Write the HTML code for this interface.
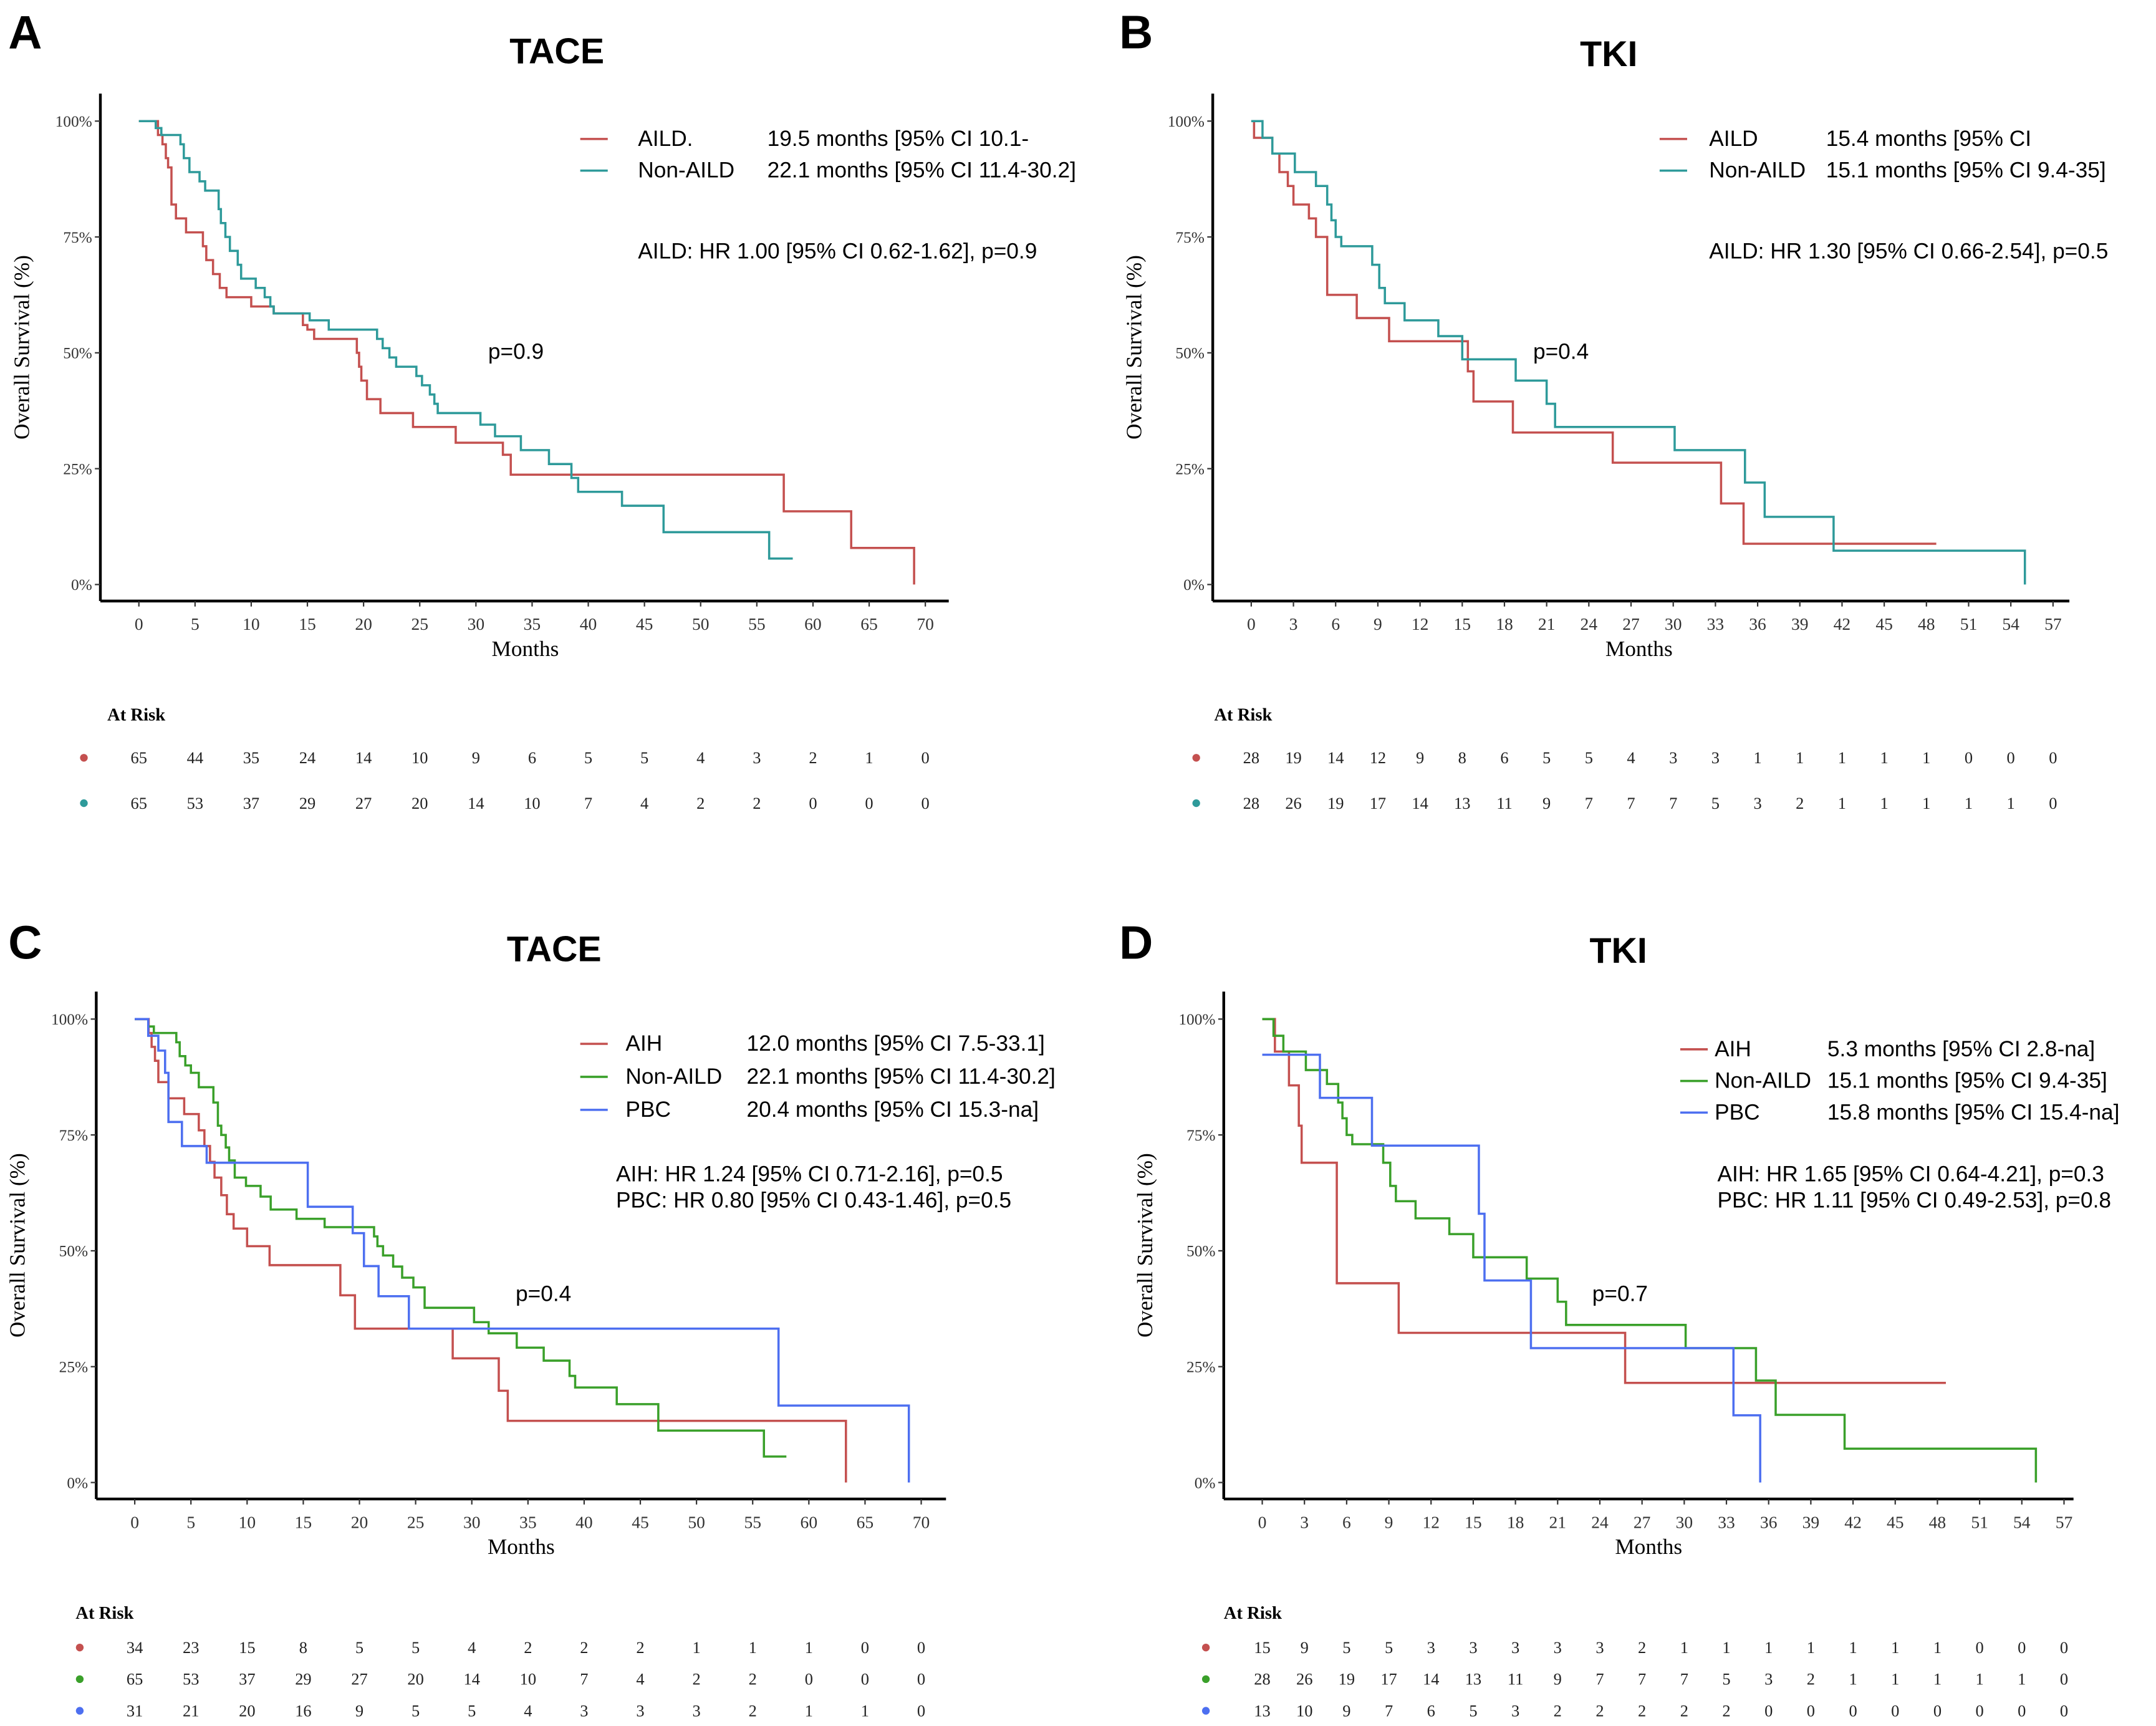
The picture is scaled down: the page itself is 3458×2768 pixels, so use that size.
<!DOCTYPE html>
<html><head><meta charset="utf-8"><style>
html,body{margin:0;padding:0;background:#fff}
svg{display:block}
.ser{font-family:"Liberation Serif",serif}
.san{font-family:"Liberation Sans",sans-serif}
</style></head><body>
<svg id="fig" width="3458" height="2768" viewBox="0 0 1568 1255" xmlns="http://www.w3.org/2000/svg">
<rect width="1568" height="1255" fill="#fff"/>
</svg>
<script>
// ---- Panel A data (TACE, AILD vs Non-AILD) ----
const aAildT=[0,1.7,2.1,2.4,2.6,2.9,3.3,4.2,5.7,6,6.6,7.2,7.8,10,12,14.6,15,15.6,19.4,19.6,19.8,20.3,21.5,24.4,28.2,32.4,33.1,57.4,63.4,69,69];
const aAildS=[100,97,95,92,90,82,79,76,73,70,67,64,62,60,58.5,56,55,53,50,47,44,40,37,34,30.6,28,23.7,15.8,7.9,0,0];
const aNonT=[0,1.5,2,3.7,4,4.5,5.4,5.9,7.1,7.3,7.7,8.1,8.8,9.1,10.4,11.2,11.7,12,15.2,16.9,21.2,21.7,22.3,22.9,24.7,25.2,25.9,26.3,26.6,30.4,31.7,34,36.5,38.5,39.1,43,46.7,56.1,58.2];
const aNonS=[100,98.5,97,95,92,89,87,85,81,78,75,72,69,66,64,62,60,58.5,57,55,53,51,49,47,45,43,41,39,37,34.5,32,29,26,23,20,17,11.3,5.6,5.6];
const aRiskAild=[65,44,35,24,14,10,9,6,5,5,4,3,2,1,0];
const aRiskNon=[65,53,37,29,27,20,14,10,7,4,2,2,0,0,0];
// ---- Panel B data (TKI, AILD vs Non-AILD) ----
const bAildT=[0,0.2,1.5,2,2.6,3,4.1,4.6,5.4,7.5,9.8,15.4,15.8,18.6,25.7,33.4,35,48.7];
const bAildS=[100,96.4,93,89,86,82,79,75,62.5,57.5,52.5,46,39.5,32.8,26.3,17.5,8.8,8.8];
const bNonT=[0,0.8,1.5,3.1,4.6,5.4,5.7,6,6.4,8.6,9.1,9.5,10.9,13.3,15,18.8,21,21.6,30.1,35.1,36.5,41.4,55,55];
const bNonS=[100,96.4,93,89,86,82,78.6,75,73,69,64,60.7,57,53.6,48.6,44,39,34,29,22,14.6,7.3,0,0];
const bRiskAild=[28,19,14,12,9,8,6,5,5,4,3,3,1,1,1,1,1,0,0,0];
const bRiskNon=[28,26,19,17,14,13,11,9,7,7,7,5,3,2,1,1,1,1,1,0];
// ---- Panel C data (TACE, AIH / Non-AILD / PBC) ----
const cAihT=[0,1.24,1.5,1.8,2.1,3.0,4.4,5.7,6.2,6.7,7.1,7.7,8.2,8.8,10,12,18.3,19.6,19.8,28.3,32.4,33.2,63.3,63.3];
const cAihS=[100,97,94,91,86.4,82.9,79.5,76,72.6,69.2,65.8,62,57.9,54.8,51,46.9,40.4,33.2,33.2,26.8,19.8,13.3,0,0];
const cNonT=[0,1.2,1.7,3.7,4.0,4.5,5.0,5.7,7.0,7.4,7.7,8.1,8.4,8.9,9.9,11.2,12.1,14.4,16.9,21.3,21.6,22.1,23,23.8,24.8,25.8,26.5,30.2,31.5,34,36.4,38.7,39.2,42.9,46.6,56,58];
const cNonS=[100,98.4,97,95,92,90,88.4,85.3,82,77,75,72.3,69.5,65.8,64,61.7,58.9,56.9,55.1,53.1,51,49,46.6,44.2,42.1,37.7,37.7,34.6,32.2,29.1,26.3,23,20.5,16.9,11.2,5.6,5.6];
const cPbcT=[0,1.2,2.1,2.7,3.0,4.2,6.4,15.4,19.4,20.4,21.7,24.4,57.3,68.9,68.9];
const cPbcS=[100,96.4,93.2,88.4,77.8,72.6,69,59.5,53.8,46.7,40.2,33.2,16.6,0,0];
const cRiskAih=[34,23,15,8,5,5,4,2,2,2,1,1,1,0,0];
const cRiskNon=[65,53,37,29,27,20,14,10,7,4,2,2,0,0,0];
const cRiskPbc=[31,21,20,16,9,5,5,4,3,3,3,2,1,1,0];
// ---- Panel D data (TKI, AIH / Non-AILD / PBC) ----
const dAihT=[0,0.9,1.9,2.6,2.8,5.3,9.7,25.8,48.6];
const dAihS=[100,93,85.7,77,69,43,32.3,21.5,21.5];
const dNonT=bNonT.slice();
const dNonS=bNonS.slice();
const dPbcT=[0,4.1,7.8,15.4,15.8,19.1,33.5,35.4,35.4];
const dPbcS=[92.3,83,72.7,58,43.6,29,14.5,0,0];
const dRiskAih=[15,9,5,5,3,3,3,3,3,2,1,1,1,1,1,1,1,0,0,0];
const dRiskNon=[28,26,19,17,14,13,11,9,7,7,7,5,3,2,1,1,1,1,1,0];
const dRiskPbc=[13,10,9,7,6,5,3,2,2,2,2,2,0,0,0,0,0,0,0,0];
const xTicks5=[0,5,10,15,20,25,30,35,40,45,50,55,60,65,70];
const xTicks3=[0,3,6,9,12,15,18,21,24,27,30,33,36,39,42,45,48,51,54,57];
const yTicks=[0,25,50,75,100];

const RED='#c4504f',TEAL='#2e9a9a',GREEN='#3aa02a',BLUE='#4d6ff0';
const NS='http://www.w3.org/2000/svg';
const svg=document.getElementById('fig');
function mk(tag,attrs,parent,txt){const e=document.createElementNS(NS,tag);for(const k in attrs)e.setAttribute(k,attrs[k]);if(txt!==undefined)e.textContent=txt;(parent||svg).appendChild(e);return e;}

function panel(p){
  const g=mk('g',{},svg);
  
  
  const xs=t=>p.x0+t*p.pxPerMonth;
  const ys=s=>p.y0-s*(p.y0-p.y100)/100;
  let e=mk('text',{x:p.letterX,y:p.letterY,'font-size':34,'font-weight':'bold',class:'san'},g,p.letter);
  
  
  e=mk('text',{x:p.titleX,y:p.titleY,'font-size':26,'font-weight':'bold',class:'san','text-anchor':'middle'},g,p.title);
  
  
  e=mk('line',{x1:p.axX,y1:p.axTop,x2:p.axX,y2:p.axBot,stroke:'#000','stroke-width':2},g);
  
  
  e=mk('line',{x1:p.axX,y1:p.axBot,x2:p.axRight,y2:p.axBot,stroke:'#000','stroke-width':2},g);
  
  
  yTicks.forEach(v=>{
    mk('line',{x1:p.axX-4,y1:ys(v),x2:p.axX,y2:ys(v),stroke:'#333','stroke-width':1},g);
    e=mk('text',{x:p.axX-6,y:ys(v)+4,'font-size':11.5,class:'ser','text-anchor':'end',fill:'#333'},g,v+'%');
    
    
  });
  p.xTicks.forEach(v=>{
    mk('line',{x1:xs(v),y1:p.axBot,x2:xs(v),y2:p.axBot+4,stroke:'#333','stroke-width':1},g);
    e=mk('text',{x:xs(v),y:p.axBot+21,'font-size':12.5,class:'ser','text-anchor':'middle',fill:'#333'},g,v);
    
    
  });
  e=mk('text',{x:p.monthsX,y:p.axBot+40,'font-size':16,class:'ser','text-anchor':'middle'},g,'Months');
  
  
  const cy=(p.axTop+p.axBot)/2;
  e=mk('text',{x:p.axX-52,y:cy,'font-size':16,class:'ser','text-anchor':'middle',transform:'rotate(-90 '+(p.axX-52)+' '+cy+')'},g,'Overall Survival (%)');
  
  
  p.series.forEach(s=>{
    let d='M'+xs(s.t[0])+' '+ys(s.s[0]);
    for(let i=1;i<s.t.length;i++){d+=' L'+xs(s.t[i])+' '+ys(s.s[i-1])+' L'+xs(s.t[i])+' '+ys(s.s[i]);}
    const c=mk('path',{d:d,fill:'none',stroke:s.color,'stroke-width':1.6},g);
    
    
  });
  p.series.forEach((s,i)=>{
    const ly=p.legY+i*p.legDy;
    mk('line',{x1:p.legX,y1:ly-5,x2:p.legX+20,y2:ly-5,stroke:s.color,'stroke-width':1.6},g);
    const t=mk('text',{x:p.legX+p.legTxt,y:ly,'font-size':16,class:'san'},g,s.label);
    
    
    const m=mk('text',{x:p.legX+p.legMed,y:ly,'font-size':16,class:'san'},g,s.med);
    
    
  });
  p.hr.forEach((h,i)=>{
    const t=mk('text',{x:p.hrX,y:p.hrY+i*19,'font-size':16,class:'san'},g,h);
    
    
  });
  e=mk('text',{x:p.pX,y:p.pY,'font-size':16,class:'san'},g,p.pv);
  
  
  e=mk('text',{x:p.arX,y:p.arY,'font-size':13,'font-weight':'bold',class:'ser'},g,'At Risk');
  
  
  p.risk.forEach((r,ri)=>{
    const ry=p.arRow0+ri*p.arDy;
    const dot=mk('circle',{cx:p.dotX,cy:ry-4,r:2.8,fill:r.color},g);
    
    
    r.vals.forEach((v,k)=>{
      const t=mk('text',{x:xs(p.xTicks[k]),y:ry,'font-size':12,class:'ser','text-anchor':'middle',fill:'#222'},g,v);
      
      
    });
  });
}

panel({id:'a',letter:'A',letterX:6,letterY:35,title:'TACE',titleX:405,titleY:46,
  x0:101,pxPerMonth:8.171,y0:425,y100:88,axX:73,axTop:68,axBot:437,axRight:690,xTicks:xTicks5,monthsX:382,
  series:[{name:'aild',t:aAildT,s:aAildS,color:RED,label:'AILD.',med:'19.5 months [95% CI 10.1-'},
          {name:'non-aild',t:aNonT,s:aNonS,color:TEAL,label:'Non-AILD',med:'22.1 months [95% CI 11.4-30.2]'}],
  legX:422,legY:106,legDy:23,legTxt:42,legMed:136,hr:['AILD: HR 1.00 [95% CI 0.62-1.62], p=0.9'],hrX:464,hrY:188,
  pv:'p=0.9',pX:355,pY:261,arX:78,arY:524,arRow0:555,arDy:33,dotX:61,
  risk:[{vals:aRiskAild,color:RED},{vals:aRiskNon,color:TEAL}]});

panel({id:'b',letter:'B',letterX:814,letterY:35,title:'TKI',titleX:1170,titleY:48,
  x0:910,pxPerMonth:10.23,y0:425,y100:88,axX:882,axTop:68,axBot:437,axRight:1505,xTicks:xTicks3,monthsX:1192,
  series:[{name:'aild',t:bAildT,s:bAildS,color:RED,label:'AILD',med:'15.4 months [95% CI'},
          {name:'non-aild',t:bNonT,s:bNonS,color:TEAL,label:'Non-AILD',med:'15.1 months [95% CI 9.4-35]'}],
  legX:1207,legY:106,legDy:23,legTxt:36,legMed:121,hr:['AILD: HR 1.30 [95% CI 0.66-2.54], p=0.5'],hrX:1243,hrY:188,
  pv:'p=0.4',pX:1115,pY:261,arX:883,arY:524,arRow0:555,arDy:33,dotX:870,
  risk:[{vals:bRiskAild,color:RED},{vals:bRiskNon,color:TEAL}]});

panel({id:'c',letter:'C',letterX:6,letterY:697,title:'TACE',titleX:403,titleY:699,
  x0:98,pxPerMonth:8.171,y0:1078,y100:741,axX:70,axTop:721,axBot:1090,axRight:688,xTicks:xTicks5,monthsX:379,
  series:[{name:'aih',t:cAihT,s:cAihS,color:RED,label:'AIH',med:'12.0 months [95% CI 7.5-33.1]'},
          {name:'non-aild',t:cNonT,s:cNonS,color:GREEN,label:'Non-AILD',med:'22.1 months [95% CI 11.4-30.2]'},
          {name:'pbc',t:cPbcT,s:cPbcS,color:BLUE,label:'PBC',med:'20.4 months [95% CI 15.3-na]'}],
  legX:422,legY:764,legDy:24,legTxt:33,legMed:121,hr:['AIH:  HR 1.24 [95% CI 0.71-2.16], p=0.5','PBC: HR 0.80 [95% CI 0.43-1.46], p=0.5'],hrX:448,hrY:859,
  pv:'p=0.4',pX:375,pY:946,arX:55,arY:1177,arRow0:1202,arDy:23,dotX:58,
  risk:[{vals:cRiskAih,color:RED},{vals:cRiskNon,color:GREEN},{vals:cRiskPbc,color:BLUE}]});

panel({id:'d',letter:'D',letterX:814,letterY:697,title:'TKI',titleX:1177,titleY:700,
  x0:918,pxPerMonth:10.23,y0:1078,y100:741,axX:890,axTop:721,axBot:1090,axRight:1508,xTicks:xTicks3,monthsX:1199,
  series:[{name:'aih',t:dAihT,s:dAihS,color:RED,label:'AIH',med:'5.3 months [95% CI 2.8-na]'},
          {name:'non-aild',t:dNonT,s:dNonS,color:GREEN,label:'Non-AILD',med:'15.1 months [95% CI 9.4-35]'},
          {name:'pbc',t:dPbcT,s:dPbcS,color:BLUE,label:'PBC',med:'15.8 months [95% CI 15.4-na]'}],
  legX:1222,legY:768,legDy:23,legTxt:25,legMed:107,hr:['AIH:  HR 1.65 [95% CI 0.64-4.21], p=0.3','PBC: HR 1.11 [95% CI 0.49-2.53], p=0.8'],hrX:1249,hrY:859,
  pv:'p=0.7',pX:1158,pY:946,arX:890,arY:1177,arRow0:1202,arDy:23,dotX:877,
  risk:[{vals:dRiskAih,color:RED},{vals:dRiskNon,color:GREEN},{vals:dRiskPbc,color:BLUE}]});
</script>
</body></html>
